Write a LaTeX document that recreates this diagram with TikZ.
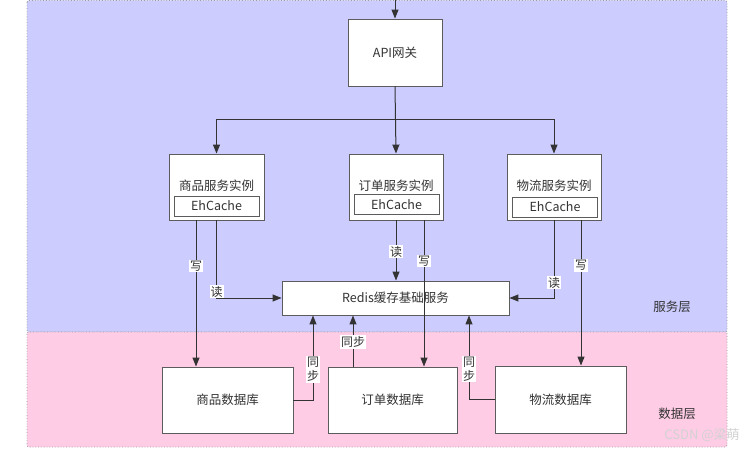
\documentclass[tikz,border=0pt]{standalone}
\usepackage{fontspec}
\setmainfont{Noto Sans CJK SC}
\usetikzlibrary{arrows.meta}
\definecolor{svc}{HTML}{CCCCFF}
\definecolor{dat}{HTML}{FFCCE6}
\definecolor{ink}{HTML}{333333}
\begin{document}
\begin{tikzpicture}[x=1pt,y=-1pt,
  every node/.style={font=\fontsize{12.5}{15}\selectfont, text=ink},
  layer/.style={draw=gray!80, dotted, line width=0.8pt, rounded corners=2pt},
  box/.style={draw=ink!80, fill=white, line width=0.9pt, inner sep=0pt},
  inbox/.style={draw=ink!80, fill=white, line width=0.9pt, inner sep=0pt, minimum width=85pt, minimum height=20pt},
  arr/.style={draw=ink, line width=1pt, -{Triangle[length=9pt,width=7pt]}},
  lbl/.style={fill=white, inner sep=1pt, font=\fontsize{12}{13}\selectfont},
]
\useasboundingbox (0,0) rectangle (750,449);
\fill[white] (0,0) rectangle (750,449);
% layers
\draw[layer, fill=svc] (27,0.5) rectangle (727,332);
\draw[layer, fill=dat] (27,332) rectangle (727,447);
\node at (672,307) {服务层};
\node at (677,414) {数据层};
\node[text=gray!35, font=\fontsize{13}{15}\selectfont] at (702,435) {CSDN @梁萌};
% gateway
\coordinate (top) at (395,-2);
\node[box, minimum width=94pt, minimum height=67pt] (api) at (395,52.5) {API网关};
% service instances
\node[box, minimum width=95pt, minimum height=66pt] (sp) at (216.5,187) {};
\node at (216.5,186) {商品服务实例};
\node[inbox] (spc) at (216.5,206) {EhCache};
\node[box, minimum width=94pt, minimum height=66pt] (os) at (396,187) {};
\node at (396,186) {订单服务实例};
\node[inbox] (osc) at (396.5,204.5) {EhCache};
\node[box, minimum width=94pt, minimum height=66pt] (ls) at (554,187) {};
\node at (554,186) {物流服务实例};
\node[inbox] (lsc) at (555,207) {EhCache};
% redis
\node[box, minimum width=227pt, minimum height=34pt] (redis) at (395.5,298) {Redis缓存基础服务};
% databases
\node[box, minimum width=131pt, minimum height=66pt] (spdb) at (227.5,400) {商品数据库};
\node[box, minimum width=129pt, minimum height=66pt] (odb) at (392.5,400) {订单数据库};
\node[box, minimum width=131pt, minimum height=67pt] (ldb) at (560.5,399.5) {物流数据库};
% gateway connectors
\draw[arr] (top) -- (api.north);
\draw[arr] (api.south) -- (os.north);
\coordinate (j) at (395,120);
\draw[arr] (j) -| (sp.north);
\draw[arr] (j) -| (ls.north);
% 商品
\draw[arr] ([xshift=-20.5pt]sp.south) coordinate (w1) -- (w1 |- spdb.north) node[lbl, pos=0.31] {写};
\draw[arr] (sp.south) |- (redis.west) node[lbl, pos=0.46] {读};
% 订单
\draw[arr] (os.south) -- (os.south |- redis.north) node[lbl, pos=0.52] {读};
\draw[arr] ([xshift=28pt]os.south) coordinate (w2) -- (w2 |- odb.north) node[lbl, pos=0.28] {写};
% 物流
\draw[arr] (ls.south) |- (redis.east) node[lbl, pos=0.40] {读};
\draw[arr] ([xshift=27pt]ls.south) coordinate (w3) -- (w3 |- ldb.north) node[lbl, pos=0.31] {写};
% sync
\draw[arr] (spdb.east) -| ([xshift=-82.5pt]redis.south) node[lbl, pos=0.68, align=center, font=\fontsize{12}{14}\selectfont] {同\\步};
\draw[arr] ([xshift=-39.5pt]odb.north) coordinate (s2) -- (s2 |- redis.south) node[lbl, pos=0.48] {同步};
\draw[arr] (ldb.west) -| ([xshift=73.5pt]redis.south) node[lbl, pos=0.68, align=center, font=\fontsize{12}{14}\selectfont] {同\\步};
\end{tikzpicture}
\end{document}
